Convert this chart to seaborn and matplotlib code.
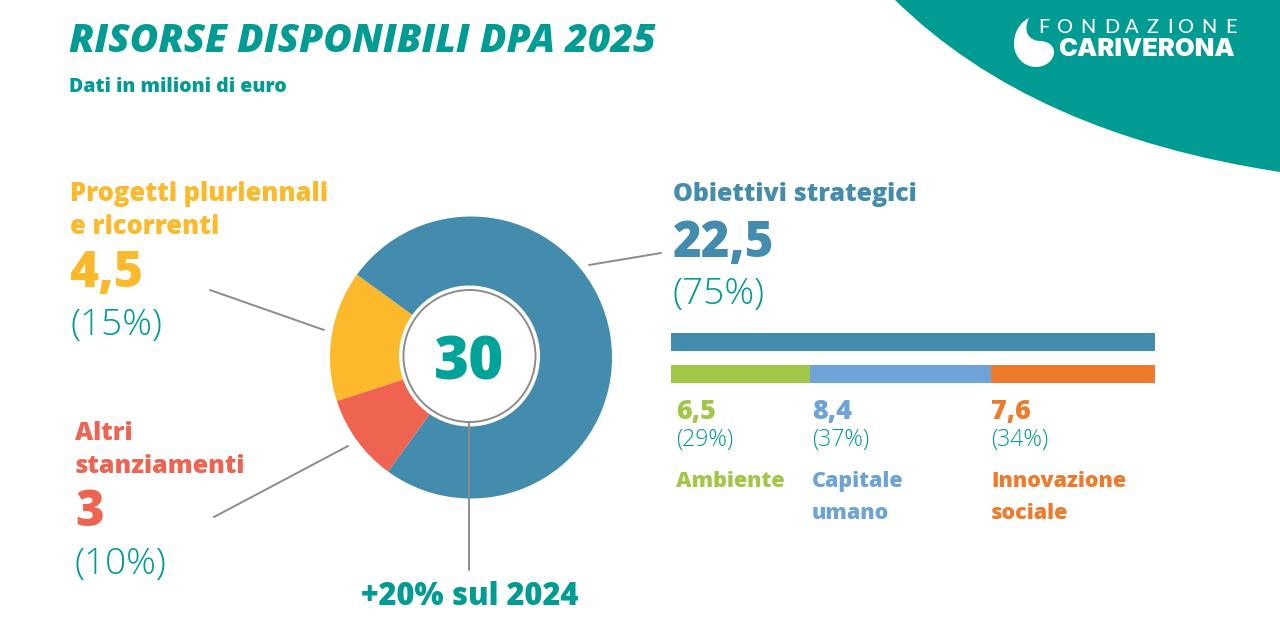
import matplotlib

matplotlib.use("Agg")

import matplotlib.pyplot as plt
import numpy as np
import pandas as pd
import seaborn as sns
from matplotlib.patches import Circle, PathPatch
from matplotlib.path import Path

W, H = 1280, 640

TEAL = "#009c94"
BLUE = "#438cae"
YELLOW = "#fdb92c"
RED = "#ef6351"
GREEN = "#a2c646"
LIGHT_BLUE = "#6ea3d8"
ORANGE = "#ee7b2c"
GREY = "#8c8c8c"

donut_labels = ["Progetti pluriennali e ricorrenti", "Altri stanziamenti", "Obiettivi strategici"]
donut_values = [4.5, 3, 22.5]
donut_colors = [YELLOW, RED, BLUE]

bar_rows = ["totale", "dettaglio"]
total_value = 22.5
area_names = ["Ambiente", "Capitale\numano", "Innovazione\nsociale"]
area_values = [6.5, 8.4, 7.6]
area_value_labels = ["6,5", "8,4", "7,6"]
area_shares = ["(29%)", "(37%)", "(34%)"]
area_colors = [GREEN, LIGHT_BLUE, ORANGE]


def px_axes(fig, left, top, right, bottom):
    return fig.add_axes([left / W, 1 - bottom / H, (right - left) / W, (bottom - top) / H])


def label(ax, x, y, text, size, color, weight="normal", **kwargs):
    # y is the baseline, size is in pixels
    kwargs.setdefault("family", "Open Sans")
    ax.text(x, y, text, fontsize=size * 0.72, color=color, fontweight=weight, va="baseline", **kwargs)


sns.set_theme(style="white")
fig = plt.figure(figsize=(W / 100, H / 100), dpi=100, facecolor="white")

bg = fig.add_axes([0, 0, 1, 1])
bg.set_xlim(0, W)
bg.set_ylim(H, 0)
bg.axis("off")

# teal corner
corner = Path(
    [(895, 0), (1031, 134), (1280, 172), (1280, 0), (895, 0)],
    [Path.MOVETO, Path.CURVE3, Path.CURVE3, Path.LINETO, Path.CLOSEPOLY],
)
bg.add_patch(PathPatch(corner, facecolor=TEAL, edgecolor="none"))

# logo
drop = Path(
    [
        (1029, 18),
        (1019, 23), (1014, 33), (1014, 44),
        (1014, 57), (1024, 67), (1036, 67),
        (1046, 67), (1054, 60), (1054, 52),
        (1054, 45), (1047, 41), (1040, 41),
        (1030, 41), (1022, 32), (1029, 18),
        (1029, 18),
    ],
    [Path.MOVETO] + [Path.CURVE4] * 15 + [Path.CLOSEPOLY],
)
bg.add_patch(PathPatch(drop, facecolor="white", edgecolor="none"))
for letter, x in zip("FONDAZIONE", [1038, 1056, 1080, 1104, 1125, 1147, 1167, 1177, 1201, 1225]):
    label(bg, x, 33, letter, 20, "white", weight="medium", family="Lato")
label(bg, 1058, 56, "CARIVERONA", 25.5, "white", weight="black", family="Inter")

# title
label(bg, 69, 52, "RISORSE DISPONIBILI DPA 2025", 39, TEAL, weight="heavy", style="italic")
label(bg, 69, 92, "Dati in milioni di euro", 19.5, TEAL, weight="heavy")

# left labels
label(bg, 70, 201, "Progetti pluriennali", 25.5, YELLOW, weight="heavy")
label(bg, 70, 234, "e ricorrenti", 25.5, YELLOW, weight="heavy")
label(bg, 69, 287, "4,5", 50, YELLOW, weight="heavy")
label(bg, 70, 335, "(15%)", 37, TEAL, weight="light")

label(bg, 75, 440, "Altri", 25, RED, weight="heavy")
label(bg, 75, 473, "stanziamenti", 25, RED, weight="heavy")
label(bg, 75, 526, "3", 49, RED, weight="heavy")
label(bg, 75, 574, "(10%)", 37, TEAL, weight="light")

# right labels
label(bg, 673, 201, "Obiettivi strategici", 25, BLUE, weight="heavy")
label(bg, 673, 257, "22,5", 49, BLUE, weight="heavy")
label(bg, 673, 304, "(75%)", 37, TEAL, weight="light")

label(bg, 361, 605, "+20% sul 2024", 30.8, TEAL, weight="heavy")

# leader lines
for (x0, y0), (x1, y1) in [
    ((589, 265), (661, 253)),
    ((210, 290), (324, 330)),
    ((214, 517), (348, 446)),
]:
    bg.plot([x0, x1], [y0, y1], color=GREY, lw=1.4, zorder=5)

# donut
donut_ax = px_axes(fig, 330, 216.5, 612, 498.5)
donut_ax.pie(
    donut_values,
    colors=donut_colors,
    startangle=144,
    radius=1,
    wedgeprops={"width": 1 - 60 / 141, "linewidth": 0},
)
donut_ax.set_xlim(-1, 1)
donut_ax.set_ylim(-1, 1)
donut_ax.patch.set_alpha(0)

top = fig.add_axes([0, 0, 1, 1])
top.set_xlim(0, W)
top.set_ylim(H, 0)
top.axis("off")
top.patch.set_alpha(0)
top.add_patch(Circle((469.5, 356), 70.5, facecolor="white", edgecolor="none"))
top.add_patch(Circle((469.5, 356), 66, facecolor="white", edgecolor=GREY, lw=1.4))
top.plot([469, 469], [422, 570], color=GREY, lw=1.4)
label(top, 469.5, 379, "30", 60, "#00a39a", weight="heavy", ha="center")

# stacked bars
bars_ax = px_axes(fig, 670.5, 326, 1155, 390)
sns.barplot(
    data=pd.DataFrame({"row": [bar_rows[0]], "value": [total_value]}),
    x="value", y="row", order=bar_rows, color=BLUE, saturation=1, width=0.5625, linewidth=0, ax=bars_ax,
)
starts = np.cumsum([0] + area_values[:-1])
for start, value, color in zip(starts, area_values, area_colors):
    sns.barplot(
        data=pd.DataFrame({"row": [bar_rows[1]], "value": [value]}),
        x="value", y="row", order=bar_rows, color=color, saturation=1, width=0.5625, linewidth=0,
        left=start, ax=bars_ax,
    )
bars_ax.set_xlim(0, total_value)
bars_ax.set_ylim(1.5, -0.5)
bars_ax.axis("off")

for x, value, share, name, color in zip(
    [676, 812, 991], area_value_labels, area_shares, area_names, area_colors
):
    label(bg, x, 419, value, 27, color, weight="heavy")
    label(bg, x, 446, share, 23, TEAL, weight="light")
    for i, line in enumerate(name.split("\n")):
        label(bg, x, 487 + i * 32, line, 21.5, color, weight="heavy")

fig.savefig("out.png", dpi=100)
